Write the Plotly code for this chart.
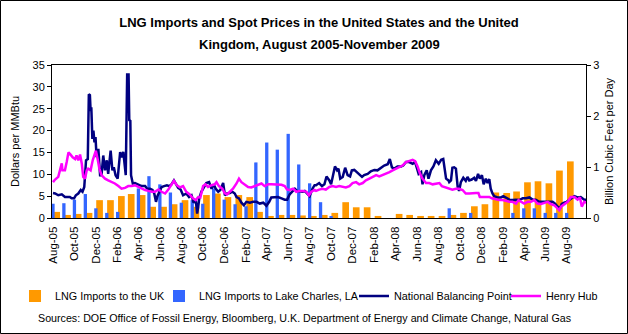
import pandas as pd
import plotly.graph_objects as go

# ---------------- data ----------------
months = pd.date_range("2005-08-01", "2009-08-01", freq="MS")

# Billion cubic feet per day (right axis)
uk_imports = [0.12, 0.06, 0.08, 0.10, 0.35, 0.35, 0.43, 0.47, 0.45, 0.22, 0.22, 0.27,
              0.35, 0.22, 0.45, 0.48, 0.41, 0.45, 0.41, 0.12, 0.04, 0.06, 0.06, 0.05,
              0.04, 0.06, 0.10, 0.31, 0.21, 0.21, 0.04, 0.00, 0.08, 0.06, 0.04, 0.04,
              0.04, 0.06, 0.10, 0.23, 0.27, 0.50, 0.49, 0.52, 0.70, 0.72, 0.68, 0.93,
              1.11]
lake_charles = [0.28, 0.29, 0.36, 0.47, 0.19, 0.10, 0.12, 0.00, 0.58, 0.82, 0.66, 0.50,
                0.30, 0.35, 0.28, 0.58, 0.36, 0.27, 0.23, 1.09, 1.48, 1.34, 1.65, 1.05,
                0.68, 0.31, 0.04, 0.00, 0.00, 0.00, 0.00, 0.00, 0.00, 0.00, 0.00, 0.00,
                0.00, 0.19, 0.00, 0.10, 0.00, 0.00, 0.00, 0.10, 0.19, 0.19, 0.10, 0.10,
                0.10]

# Spot prices, dollars per MMBtu (left axis); days counted from 1 Aug 2005
hh_day = [0, 6, 15, 22, 25, 27, 34, 39, 44, 50, 56, 63, 67, 72, 77, 82, 86, 91, 96, 100,
          107, 113, 118, 122, 127, 132, 138, 148, 157, 167, 176, 186, 195, 205, 214, 224,
          233, 243, 252, 262, 271, 281, 290, 300, 309, 319, 328, 338, 344, 352, 361,
          370, 379, 389, 398, 406, 413, 419, 427, 434, 441, 451, 460, 465, 472, 482, 488,
          495, 503, 512, 522, 529, 536, 545, 555, 564, 574, 583, 593, 602, 612, 621, 635,
          650, 659, 666, 673, 683, 692, 702, 711, 721, 728, 735, 744,
          748, 757, 767, 776, 786, 795, 805, 814, 824, 833, 843, 852, 862, 871, 881, 890,
          900, 909, 919, 928, 938, 947, 957, 966, 976, 985, 994, 1004, 1013, 1023, 1030,
          1037, 1044, 1051, 1061, 1070, 1080, 1089, 1099, 1106, 1118,
          1127, 1136, 1146, 1155, 1165, 1174, 1184, 1193, 1203, 1210, 1214, 1222, 1231,
          1241, 1248, 1260, 1269, 1279, 1288, 1298, 1307, 1317, 1324, 1331, 1340, 1350,
          1359, 1369, 1378, 1388, 1397, 1407, 1416, 1426, 1435, 1440, 1445, 1454, 1464,
          1473, 1483, 1492, 1499, 1504, 1511, 1518]
hh_price = [8.2, 8.8, 9.4, 11.6, 12.5, 10.9, 10.9, 12.8, 15.0, 14.5, 13.9, 13.5, 14.3, 13.2,
            14.5, 12.4, 9.4, 9.0, 10.9, 11.3, 10.9, 13.2, 14.4, 15.4, 13.5, 11.3, 9.8, 9.0,
            8.6, 8.2, 7.9, 7.3, 6.7, 6.9, 7.3, 7.3, 7.5, 7.1, 6.7, 6.4, 6.2, 6.0, 6.0, 6.5,
            6.0, 5.6, 6.5, 7.9, 8.5, 7.5, 7.0,
            7.3, 6.0, 5.4, 4.5, 4.1, 4.8, 4.7, 7.3, 7.7, 7.1, 7.5, 7.7, 8.2, 7.3, 6.7, 5.7,
            5.4, 6.0, 6.7, 7.9, 9.0, 8.2, 7.7, 7.1, 7.0, 7.3, 7.7, 7.9, 7.3, 7.7, 7.7, 7.7,
            7.6, 7.3, 6.5, 6.4, 6.7, 6.0, 6.2, 6.2, 6.0, 5.2, 6.0, 6.4,
            6.2, 6.5, 6.7, 6.5, 7.1, 7.3, 7.1, 7.3, 7.1, 7.0, 7.3, 8.0, 8.2, 7.7, 8.0, 8.6,
            9.0, 9.4, 9.8, 9.5, 9.8, 10.1, 10.5, 10.9, 11.3, 11.5, 12.0, 12.8, 13.0, 13.3,
            13.0, 11.8, 10.1, 9.0, 8.0, 8.0, 7.7, 7.9, 8.0, 7.3, 7.0,
            6.7, 6.5, 6.7, 6.7, 6.4, 5.6, 5.6, 5.7, 5.7, 5.7, 4.8, 4.8, 4.8, 4.8, 4.5, 4.2,
            4.1, 4.1, 3.9, 3.7, 3.7, 3.3, 4.1, 3.7, 3.3, 3.7, 3.7, 4.1, 3.3, 3.2, 3.5, 3.7,
            3.2, 2.9, 2.2, 1.8, 2.6, 3.2, 3.7, 4.8, 4.8, 4.2, 4.7, 2.6, 3.7, 3.5]

nbp_day = [0, 6, 15, 25, 34, 44, 48, 53, 60, 65, 72, 79, 84, 89, 94, 99, 102, 105, 107, 109,
           112, 115, 118, 121, 124, 129, 134, 138, 143, 148, 153, 157, 164, 169, 173, 178,
           184, 191, 195, 200, 205, 207, 211, 215, 217, 220, 222, 227, 233, 243, 252, 262,
           268, 276, 283, 288, 293, 297, 302, 309, 316, 324, 331, 337, 344, 350, 356, 363,
           370, 379, 387, 394, 400, 406, 410, 413, 416, 422, 429, 436, 444, 451, 457, 463,
           470, 476, 484, 489, 495, 503, 510, 517, 522, 529, 536, 543, 550, 560, 569, 579,
           588, 598, 607, 615, 621, 631, 640, 650, 659, 666, 673, 681, 688, 694, 702, 709,
           716, 723, 730, 738, 744,
           748, 757, 765, 772, 778, 786, 791, 795, 802, 808, 812, 817, 824, 831, 838, 845,
           850, 857, 864, 871, 879, 885, 895, 904, 914, 923, 933, 942, 952, 958, 964, 971,
           980, 990, 996, 1004, 1013, 1023, 1030, 1034, 1040, 1047, 1051, 1056, 1063, 1068,
           1075, 1082, 1089, 1097, 1104, 1110, 1118, 1125,
           1127, 1132, 1136, 1141, 1146, 1151, 1155, 1160, 1167, 1174, 1179, 1184, 1191,
           1198, 1203, 1209, 1214, 1220, 1225, 1231, 1236, 1241, 1245, 1250, 1255, 1264,
           1274, 1281, 1288, 1298, 1307, 1317, 1326, 1336, 1345, 1355, 1364, 1373, 1383,
           1392, 1402, 1411, 1421, 1428, 1435, 1442, 1447, 1454, 1461, 1468, 1476, 1483,
           1492, 1501, 1511, 1518]
nbp_price = [5.7, 5.6, 5.2, 5.4, 4.8, 4.7, 4.8, 4.5, 4.5, 5.2, 5.6, 6.4, 6.0, 7.1, 13.2, 13.5,
             28.3, 28.1, 24.5, 25.3, 18.1, 20.0, 17.3, 18.5, 13.9, 15.8, 9.8, 9.8, 14.3, 10.9,
             13.2, 10.1, 15.4, 10.9, 11.6, 9.8, 9.0, 15.1, 13.9, 15.1, 10.9, 9.8, 32.8, 32.8,
             22.4, 22.2, 9.8, 7.9, 8.0, 7.7, 7.3, 7.3, 6.7, 6.7, 6.4, 5.6, 3.7, 5.0, 6.0, 7.1,
             7.3, 7.5, 7.3, 7.7, 8.6, 7.7, 6.9, 6.5,
             5.2, 5.6, 4.8, 5.2, 3.5, 4.2, 1.0, 2.5, 4.5, 6.0, 7.1, 8.0, 8.2, 6.7, 7.7, 6.7,
             6.0, 6.4, 8.0, 5.2, 5.6, 5.7, 6.0, 5.6, 4.8, 4.5, 3.5, 2.9, 3.7, 3.5, 3.7, 3.7,
             3.3, 3.5, 2.8, 3.7, 4.7, 4.8, 4.8, 4.5, 4.2, 4.2, 5.4, 6.1, 6.7, 6.2, 6.0, 6.0,
             6.2, 5.6, 5.0, 6.7, 7.5,
             7.5, 8.0, 7.3, 7.7, 9.5, 8.6, 7.7, 9.0, 11.8, 10.9, 11.3, 9.0, 9.4, 11.5, 9.8, 9.5,
             10.9, 11.0, 10.5, 9.8, 9.4, 9.8, 10.1, 10.7, 11.0, 10.9, 11.5, 12.0, 12.3, 13.5,
             11.6, 11.3, 11.8, 11.8, 12.0, 12.8, 12.8, 12.4, 12.8, 11.6, 10.1, 10.5, 7.7, 9.8,
             10.9, 9.0, 10.9, 11.8, 13.2, 12.4, 13.3, 13.5, 9.0, 8.6,
             8.2, 8.6, 11.5, 11.6, 11.3, 7.1, 6.2, 8.2, 9.2, 8.5, 9.4, 8.6, 8.8, 9.2, 8.5, 10.1,
             9.0, 9.8, 7.7, 9.0, 8.0, 8.9, 6.7, 5.6, 5.0, 4.7, 4.7, 5.0, 4.7, 4.2, 4.1, 4.2,
             4.1, 4.5, 4.5, 4.7, 4.2, 4.2, 3.7, 3.7, 3.7, 3.8, 3.7, 3.3, 2.6, 2.2, 3.2, 3.5,
             3.7, 4.1, 4.7, 5.0, 4.7, 4.8, 4.2, 4.2]

left_ticks = [0, 5, 10, 15, 20, 25, 30, 35]
right_ticks = [0, 1, 2, 3]

title_line1 = "LNG Imports and Spot Prices in the United States and the United"
title_line2 = "Kingdom, August 2005-November 2009"
source_text = ("Sources: DOE Office of Fossil Energy, Bloomberg, U.K. Department of Energy "
               "and Climate Change, Natural Gas")

# ---------------- figure ----------------
DAY = 86400000
base = pd.Timestamp("2005-08-01")
hh_dates = base + pd.to_timedelta(hh_day, unit="D")
nbp_dates = base + pd.to_timedelta(nbp_day, unit="D")

FONT = "Arial, 'Liberation Sans', sans-serif"
W, H = 628, 334
L, R, T, B = 52, 42, 65, 116
PW, PH = W - L - R, H - T - B


def px_x(px):
    return (px - L) / PW


def px_y(py):
    return (H - B - py) / PH


fig = go.Figure()
fig.add_trace(go.Bar(x=months, y=uk_imports, name="LNG Imports to the UK",
                     marker=dict(color="#FF9900", line=dict(width=0)),
                     width=19 * DAY, offset=1 * DAY, yaxis="y", legend="legend2"))
fig.add_trace(go.Bar(x=months, y=lake_charles, name="LNG Imports to Lake Charles, LA",
                     marker=dict(color="#3366FF", line=dict(width=0)),
                     width=9.4 * DAY, offset=-4.7 * DAY, yaxis="y", legend="legend3"))
fig.add_trace(go.Scatter(x=nbp_dates, y=nbp_price, name="National Balancing Point",
                         mode="lines", line=dict(color="#000080", width=2.5),
                         yaxis="y2", legend="legend4"))
fig.add_trace(go.Scatter(x=hh_dates, y=hh_price, name="Henry Hub",
                         mode="lines", line=dict(color="#FF00FF", width=2.5),
                         yaxis="y2", legend="legend5"))

LEG_FS = 10.8
leg_common = dict(orientation="h", yanchor="middle", xanchor="left", visible=True,
                  bgcolor="rgba(0,0,0,0)", font=dict(size=LEG_FS, family=FONT, color="black"))
ly = px_y(296)

fig.update_layout(
    width=W, height=H,
    margin=dict(l=L, r=R, t=T, b=B),
    paper_bgcolor="white", plot_bgcolor="white",
    showlegend=True,
    font=dict(family=FONT, size=11, color="black"),
    title=dict(text=title_line1, x=0.5, xanchor="center", xref="paper",
               y=1 - 22 / H, yanchor="middle", yref="container",
               font=dict(size=13, family=FONT, color="black", weight="bold")),
    barmode="overlay",
    xaxis=dict(type="date", range=["2005-07-29 05:00", "2009-09-25"],
               tickformat="%b-%y", dtick="M2", tick0="2005-08-01", tickangle=-90,
               ticks="", showline=True, linecolor="black", linewidth=1, mirror=True,
               showgrid=False, zeroline=False, tickfont=dict(size=11.5),
               ticklabelstandoff=3),
    yaxis=dict(side="right", range=[0, 3], tickvals=right_ticks, ticks="outside",
               ticklen=4, tickcolor="black", showline=True, linecolor="black",
               linewidth=1, showgrid=False, zeroline=False, tickfont=dict(size=11),
               title=dict(text="Billion Cubic Feet per Day", font=dict(size=11), standoff=6)),
    yaxis2=dict(overlaying="y", side="left", range=[0, 35], tickvals=left_ticks,
                ticks="outside", ticklen=4, tickcolor="black", showline=True,
                linecolor="black", linewidth=1, showgrid=False, zeroline=False,
                tickfont=dict(size=11),
                title=dict(text="Dollars per MMBtu", font=dict(size=11), standoff=10)),
    legend2=dict(x=px_x(15), y=ly, **leg_common),
    legend3=dict(x=px_x(159), y=ly, **leg_common),
    legend4=dict(x=px_x(354), y=ly, **leg_common),
    legend5=dict(x=px_x(506), y=ly, **leg_common),
    annotations=[
        dict(text=title_line2, x=0.5, y=px_y(44), xref="paper", yref="paper",
             xanchor="center", yanchor="middle", showarrow=False,
             font=dict(size=13, family=FONT, color="black", weight="bold")),
        dict(text=source_text, x=px_x(36), y=px_y(318), xref="paper",
             yref="paper", xanchor="left", yanchor="middle", showarrow=False,
             font=dict(size=10.7, family=FONT, color="black")),
    ],
    shapes=[dict(type="rect", xref="paper", yref="paper",
                 x0=px_x(0.5), x1=px_x(W - 0.5), y0=px_y(H - 0.5), y1=px_y(0.5),
                 line=dict(color="black", width=1), fillcolor="rgba(0,0,0,0)",
                 layer="above")],
)

fig.write_html("out.html")
